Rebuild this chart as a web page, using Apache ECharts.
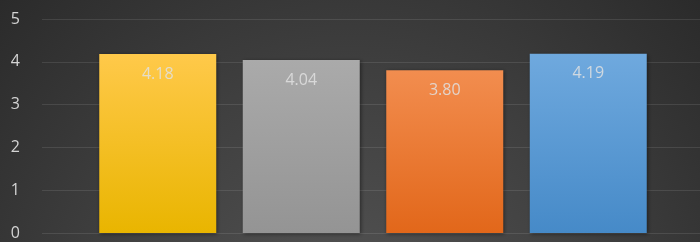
<!DOCTYPE html>
<html>
<head>
<meta charset="UTF-8">
<script src="https://cdn.jsdelivr.net/npm/echarts@6/dist/echarts.min.js"></script>
<style>
  html, body { margin: 0; padding: 0; background: #333; }
  #chart { width: 700px; height: 242px; }
</style>
</head>
<body>
<div id="chart"></div>
<script>
  // data
  const categories = ['A', 'B', 'C', 'D'];
  const values = [4.18, 4.04, 3.80, 4.19];
  const yTicks = [0, 1, 2, 3, 4, 5];

  // top / bottom colors of each bar
  const barColors = [
    ['#ffc94a', '#e9b500'],
    ['#aaaaaa', '#949494'],
    ['#f28d4f', '#e2671a'],
    ['#6fa9de', '#468ac8']
  ];

  const chart = echarts.init(document.getElementById('chart'));

  const option = {
    animation: false,
    backgroundColor: {
      type: 'radial', x: 350, y: 330, r: 520, global: true,
      colorStops: [
        { offset: 0, color: '#555555' },
        { offset: 0.5, color: '#3f3f3f' },
        { offset: 1, color: '#272727' }
      ]
    },
    grid: [
      // gridlines + y labels
      { left: 42, right: 0, top: 19, bottom: 9 },
      // bars
      { left: 86, right: 40, top: 19, bottom: 9 }
    ],
    xAxis: [
      { gridIndex: 0, type: 'category', data: categories, show: false },
      { gridIndex: 1, type: 'category', data: categories, show: false }
    ],
    yAxis: [
      {
        gridIndex: 0, type: 'value', min: yTicks[0], max: yTicks[yTicks.length - 1], interval: 1,
        axisLine: { show: false }, axisTick: { show: false },
        axisLabel: { color: '#d4d4d4', fontSize: 16, fontFamily: 'Open Sans', margin: 22 },
        splitLine: { lineStyle: { color: 'rgba(255,255,255,0.1)', width: 1 } }
      },
      {
        gridIndex: 1, type: 'value', min: yTicks[0], max: yTicks[yTicks.length - 1], interval: 1,
        show: false, splitLine: { show: false }
      }
    ],
    series: [{
      type: 'bar',
      xAxisIndex: 1,
      yAxisIndex: 1,
      barWidth: 117,
      data: values.map((v, i) => ({
        value: v,
        itemStyle: {
          color: {
            type: 'linear', x: 0, y: 0, x2: 0, y2: 1,
            colorStops: [
              { offset: 0, color: barColors[i][0] },
              { offset: 1, color: barColors[i][1] }
            ]
          }
        }
      })),
      itemStyle: {
        shadowBlur: 4, shadowColor: 'rgba(0,0,0,0.45)', shadowOffsetX: 1, shadowOffsetY: 1
      },
      label: {
        show: true,
        position: 'insideTop',
        distance: 12,
        color: 'rgba(225,225,225,0.85)',
        fontSize: 16,
        fontFamily: 'Open Sans',
        formatter: p => p.value.toFixed(2)
      }
    }]
  };

  chart.setOption(option);
</script>
</body>
</html>
